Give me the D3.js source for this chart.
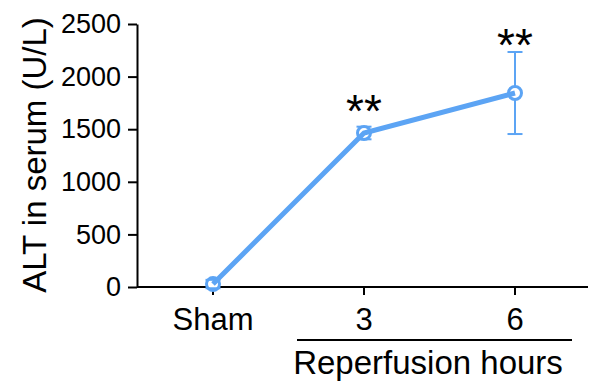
<!DOCTYPE html>
<html><head><meta charset="utf-8">
<script src="https://cdn.jsdelivr.net/npm/d3@7"></script>
<style>body{margin:0;background:#fff}svg{display:block}text{font-family:"Liberation Sans",Arial,sans-serif;fill:#000}</style>
</head><body><svg id="c" width="589" height="391"></svg>
<script>
const categories = ["Sham", "3", "6"];
const means = [28, 1464, 1844];
const errs = [40, 60, 390];
const signif = ["", "**", "**"];
const signifAt = [0, 1740, 2367];
const yTicks = [0, 500, 1000, 1500, 2000, 2500];
const yLabel = "ALT in serum (U/L)";
const groupLabel = "Reperfusion hours";
const blue = "#5ca4f4";

const svg = d3.select("#c");
const x = d3.scalePoint().domain(categories).range([213, 515]);
const y = d3.scaleLinear().domain([0, 2500]).range([287, 24]);

// Y axis
const ya = svg.append("g").attr("transform", "translate(137,0)")
  .call(d3.axisLeft(y).tickValues(yTicks).tickFormat(d3.format("d")).tickSize(9).tickSizeOuter(0).tickPadding(7));
ya.selectAll("text").attr("font-size", 27).attr("font-family", "Liberation Sans, Arial, sans-serif");
ya.selectAll("line,path").attr("stroke", "#000").attr("stroke-width", 2);

// X axis
const xa = svg.append("g").attr("transform", "translate(0,287)");
xa.append("line").attr("x1", 137).attr("x2", 588).attr("stroke", "#000").attr("stroke-width", 2);
xa.selectAll(".tk").data(categories).join("line")
  .attr("x1", d => x(d)).attr("x2", d => x(d)).attr("y1", 0).attr("y2", 8)
  .attr("stroke", "#000").attr("stroke-width", 2);
xa.selectAll(".lb").data(categories).join("text")
  .attr("x", d => x(d)).attr("y", 43).attr("text-anchor", "middle")
  .attr("font-size", 31).text(d => d);

// group bracket
svg.append("line").attr("x1", 297).attr("x2", 572).attr("y1", 340).attr("y2", 340)
  .attr("stroke", "#000").attr("stroke-width", 2);
svg.append("text").attr("x", 428).attr("y", 374).attr("text-anchor", "middle")
  .attr("font-size", 33).text(groupLabel);

// y label
svg.append("text").attr("transform", "translate(46,155) rotate(-90)")
  .attr("text-anchor", "middle").attr("font-size", 33).text(yLabel);

const data = categories.map((c, i) => ({c, m: means[i], e: errs[i], s: signif[i], sy: signifAt[i]}));
// error bar stems
svg.selectAll(".stem").data(data).join("line")
  .attr("x1", d => x(d.c)).attr("x2", d => x(d.c))
  .attr("y1", d => y(d.m - d.e)).attr("y2", d => y(d.m + d.e))
  .attr("stroke", blue).attr("stroke-width", 2);
// circles
svg.selectAll(".pt").data(data).join("circle")
  .attr("cx", d => x(d.c)).attr("cy", d => y(d.m)).attr("r", 6.5)
  .attr("fill", "#fff").attr("stroke", blue).attr("stroke-width", 3);
// line
svg.append("path").datum(data)
  .attr("d", d3.line().x(d => x(d.c)).y(d => y(d.m)))
  .attr("fill", "none").attr("stroke", blue).attr("stroke-width", 5);
// caps
[-1, 1].forEach(k => {
  svg.selectAll(".cap" + k).data(data).join("line")
    .attr("x1", d => x(d.c) - 7.5).attr("x2", d => x(d.c) + 7.5)
    .attr("y1", d => y(d.m + k * d.e)).attr("y2", d => y(d.m + k * d.e))
    .attr("stroke", blue).attr("stroke-width", 2);
});
// significance
const sfs = 46;
svg.selectAll(".sig").data(data).join("text")
  .attr("x", d => x(d.c)).attr("y", d => y(d.sy) + 0.5 * sfs)
  .attr("text-anchor", "middle").attr("font-size", sfs).text(d => d.s);
</script></body></html>
